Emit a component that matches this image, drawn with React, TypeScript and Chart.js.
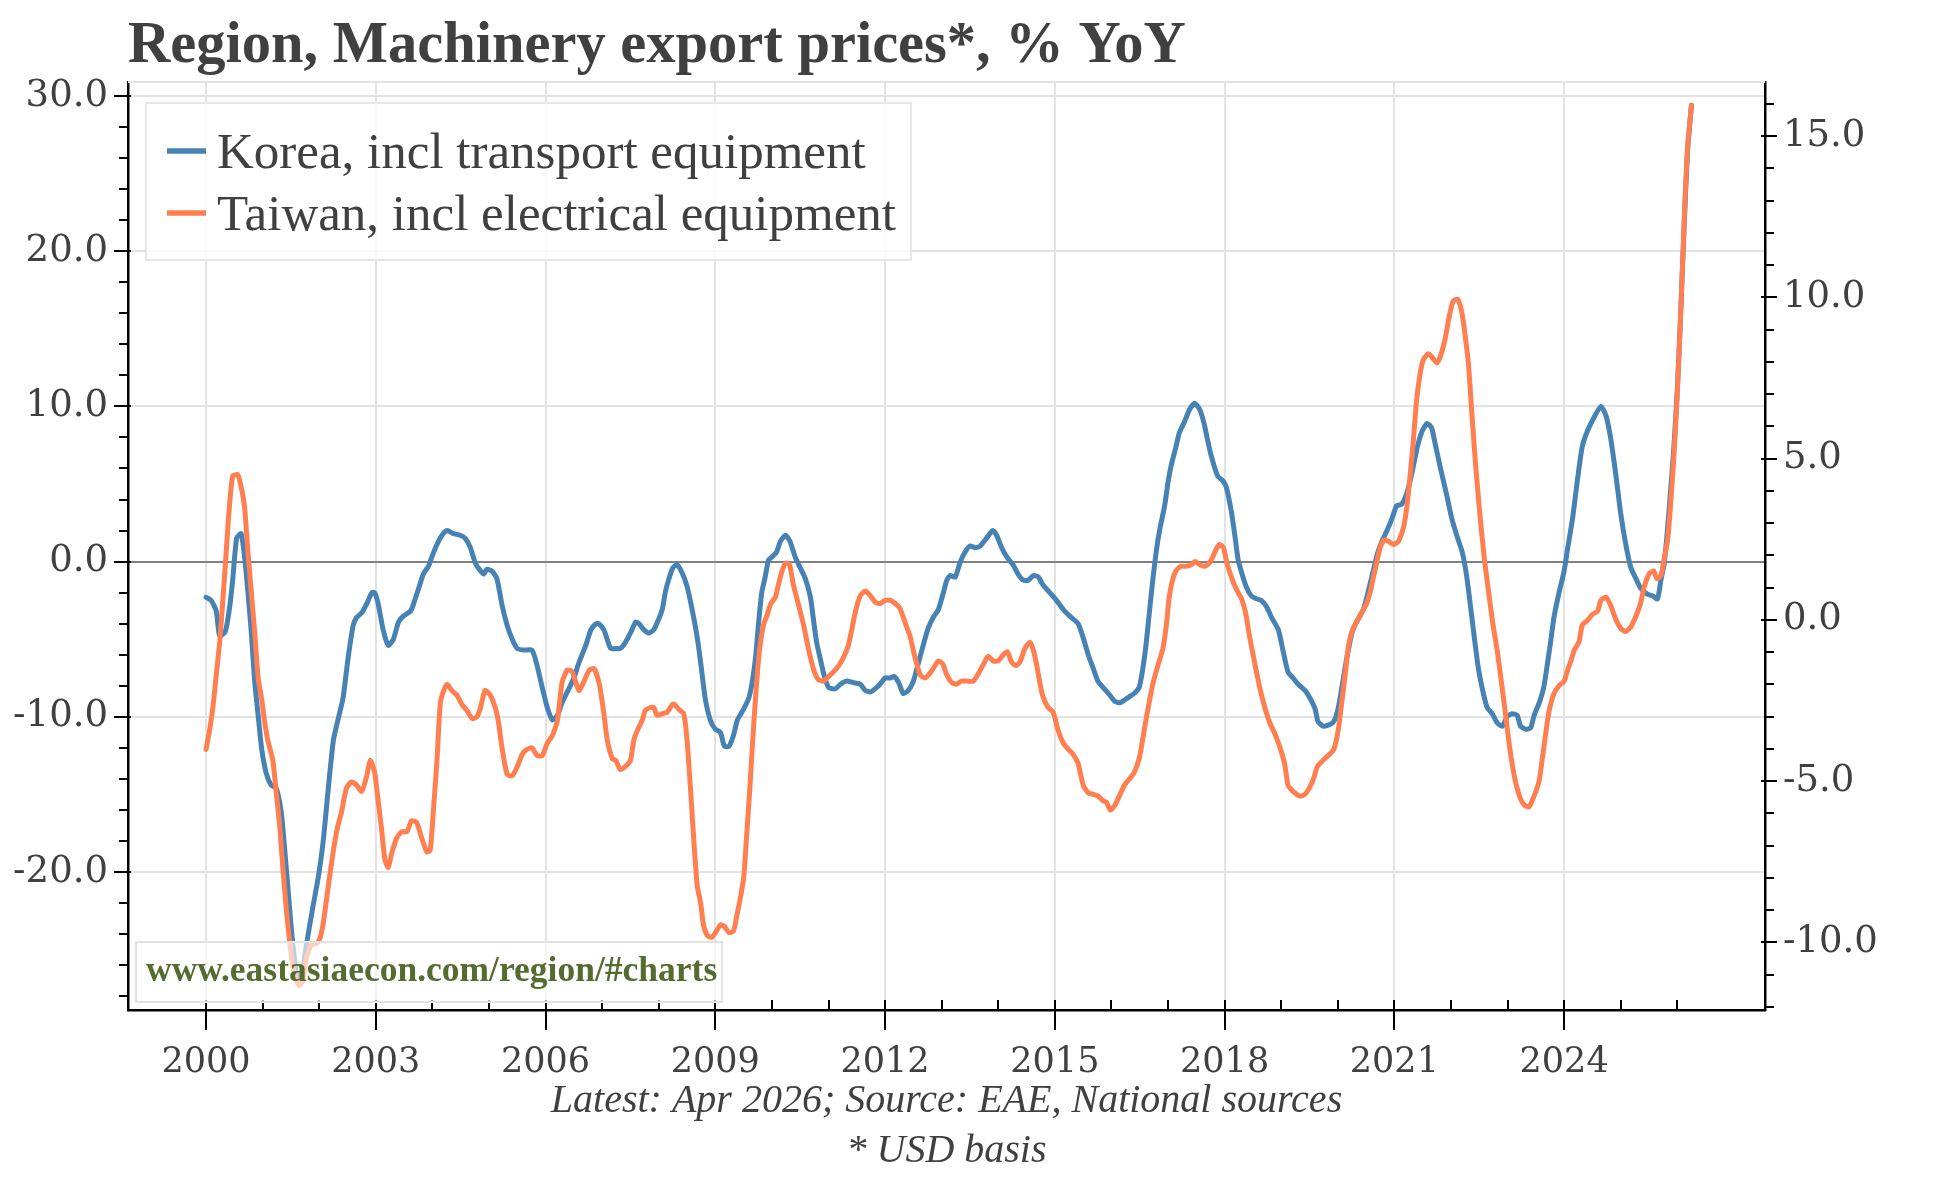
import React, { useEffect, useRef } from "react";
import { Chart, registerables } from "chart.js";

Chart.register(...registerables);

// ---------- texts ----------
const TITLE = "Region, Machinery export prices*, % YoY";
const SERIES_LABELS = ["Korea, incl transport equipment", "Taiwan, incl electrical equipment"];
const SERIES_COLORS = ["#4682b4", "#ff7f50"];
const FOOTNOTE_1 = "Latest: Apr 2026; Source: EAE, National sources";
const FOOTNOTE_2 = "* USD basis";
const WATERMARK = "www.eastasiaecon.com/region/#charts";

// ---------- axes ----------
const X_MAJOR_TICKS = [2000, 2003, 2006, 2009, 2012, 2015, 2018, 2021, 2024];
const LEFT_TICKS = [-20, -10, 0, 10, 20, 30];
const RIGHT_TICKS = [-10, -5, 0, 5, 10, 15];
const X_RANGE = [1998.62, 2027.55];
const LEFT_RANGE = [-28.89, 30.9];
const RIGHT_RANGE = [-12.1, 16.68];

// ---------- data: [decimal year, % YoY] ----------
const koreaPoints: [number, number][] = [
  [2000.0, -2.3], [2000.09, -2.5], [2000.18, -3.2], [2000.24, -4.8], [2000.34, -4.5], [2000.41, -3.1],
  [2000.47, -1.2], [2000.54, 1.5], [2000.62, 1.8], [2000.68, 0.3], [2000.74, -2.0], [2000.8, -4.6],
  [2000.86, -7.8], [2000.92, -9.9], [2000.98, -12.0], [2001.06, -13.6], [2001.15, -14.4], [2001.24, -14.6],
  [2001.33, -16.2], [2001.39, -18.6], [2001.45, -21.2], [2001.51, -23.8], [2001.6, -26.7], [2001.65, -27.2],
  [2001.71, -26.2], [2001.8, -24.1], [2001.89, -22.2], [2001.98, -20.4], [2002.07, -18.0], [2002.16, -14.6],
  [2002.25, -11.5], [2002.33, -10.2], [2002.42, -8.8], [2002.51, -6.2], [2002.6, -4.1], [2002.66, -3.6],
  [2002.75, -3.3], [2002.84, -2.7], [2002.93, -2.0], [2002.98, -2.0], [2003.04, -2.7], [2003.13, -4.4],
  [2003.22, -5.4], [2003.31, -5.0], [2003.4, -3.9], [2003.49, -3.5], [2003.61, -3.2], [2003.66, -2.8],
  [2003.75, -1.8], [2003.84, -0.8], [2003.93, -0.3], [2003.99, 0.3], [2004.08, 1.1], [2004.17, 1.7],
  [2004.26, 2.0], [2004.37, 1.8], [2004.49, 1.7], [2004.58, 1.5], [2004.67, 0.9], [2004.76, -0.1],
  [2004.85, -0.6], [2004.91, -0.8], [2004.96, -0.5], [2005.05, -0.6], [2005.14, -1.1], [2005.23, -2.8],
  [2005.32, -4.1], [2005.41, -5.0], [2005.5, -5.6], [2005.61, -5.7], [2005.76, -5.7], [2005.85, -6.7],
  [2005.94, -8.1], [2006.03, -9.4], [2006.12, -10.2], [2006.21, -9.9], [2006.29, -9.1], [2006.41, -8.2],
  [2006.5, -7.5], [2006.59, -6.5], [2006.71, -5.4], [2006.8, -4.4], [2006.89, -4.0], [2006.94, -4.0],
  [2007.03, -4.4], [2007.15, -5.6], [2007.24, -5.6], [2007.32, -5.6], [2007.41, -5.2], [2007.5, -4.6],
  [2007.59, -3.9], [2007.65, -4.0], [2007.74, -4.4], [2007.82, -4.6], [2007.91, -4.4], [2008.0, -3.7],
  [2008.06, -3.1], [2008.12, -1.9], [2008.18, -1.1], [2008.25, -0.4], [2008.32, -0.2], [2008.41, -0.7],
  [2008.5, -1.6], [2008.59, -3.1], [2008.68, -4.9], [2008.74, -6.5], [2008.82, -8.8], [2008.91, -10.2],
  [2009.0, -10.8], [2009.09, -11.0], [2009.16, -11.9], [2009.24, -11.9], [2009.32, -11.2], [2009.39, -10.2],
  [2009.5, -9.5], [2009.59, -8.8], [2009.65, -7.8], [2009.71, -6.2], [2009.76, -4.1], [2009.82, -2.0],
  [2009.88, -1.0], [2009.94, 0.1], [2010.0, 0.3], [2010.08, 0.6], [2010.15, 1.3], [2010.24, 1.7],
  [2010.32, 1.3], [2010.41, 0.3], [2010.5, -0.4], [2010.59, -1.1], [2010.68, -2.3], [2010.74, -3.9],
  [2010.79, -5.2], [2010.85, -6.2], [2010.92, -7.3], [2011.0, -8.1], [2011.12, -8.2], [2011.21, -7.9],
  [2011.32, -7.7], [2011.44, -7.8], [2011.56, -7.9], [2011.65, -8.3], [2011.74, -8.4], [2011.82, -8.2],
  [2011.91, -7.9], [2012.0, -7.5], [2012.09, -7.5], [2012.16, -7.4], [2012.24, -7.8], [2012.32, -8.5],
  [2012.41, -8.3], [2012.5, -7.7], [2012.59, -6.5], [2012.68, -5.3], [2012.76, -4.3], [2012.85, -3.6],
  [2012.94, -3.1], [2013.03, -2.0], [2013.09, -1.2], [2013.15, -0.9], [2013.24, -1.0], [2013.32, -0.1],
  [2013.41, 0.6], [2013.5, 1.0], [2013.59, 0.9], [2013.68, 1.0], [2013.79, 1.5], [2013.9, 2.0],
  [2013.97, 1.7], [2014.06, 0.9], [2014.15, 0.3], [2014.26, -0.2], [2014.35, -0.8], [2014.44, -1.2],
  [2014.53, -1.2], [2014.62, -0.9], [2014.71, -1.0], [2014.79, -1.5], [2014.91, -2.0], [2015.03, -2.5],
  [2015.15, -3.1], [2015.26, -3.5], [2015.41, -4.0], [2015.5, -4.9], [2015.59, -6.0], [2015.68, -6.9],
  [2015.76, -7.7], [2015.85, -8.1], [2015.97, -8.6], [2016.06, -9.0], [2016.15, -9.1], [2016.24, -8.9],
  [2016.32, -8.7], [2016.4, -8.5], [2016.49, -8.1], [2016.55, -7.0], [2016.61, -5.4], [2016.67, -3.3],
  [2016.73, -1.2], [2016.79, 0.6], [2016.85, 2.0], [2016.94, 3.6], [2017.0, 5.1], [2017.05, 6.1],
  [2017.14, 7.4], [2017.2, 8.3], [2017.29, 9.0], [2017.38, 9.8], [2017.47, 10.2], [2017.56, 9.8],
  [2017.63, 9.0], [2017.69, 8.0], [2017.75, 7.0], [2017.82, 6.1], [2017.88, 5.5], [2017.97, 5.2],
  [2018.03, 4.8], [2018.12, 3.2], [2018.18, 1.7], [2018.24, 0.1], [2018.3, -0.7], [2018.38, -1.6],
  [2018.47, -2.2], [2018.56, -2.4], [2018.65, -2.5], [2018.74, -2.9], [2018.83, -3.6], [2018.95, -4.4],
  [2019.03, -5.7], [2019.12, -7.1], [2019.21, -7.5], [2019.3, -7.9], [2019.42, -8.3], [2019.51, -8.8],
  [2019.6, -9.5], [2019.65, -10.3], [2019.74, -10.6], [2019.86, -10.5], [2019.93, -10.3], [2020.01, -9.4],
  [2020.1, -7.5], [2020.16, -6.2], [2020.25, -4.6], [2020.33, -3.9], [2020.45, -3.1], [2020.52, -2.2],
  [2020.6, -1.0], [2020.7, 0.5], [2020.78, 1.3], [2020.87, 2.0], [2020.96, 2.8], [2021.04, 3.6],
  [2021.13, 3.7], [2021.22, 4.4], [2021.31, 5.7], [2021.4, 7.3], [2021.49, 8.4], [2021.58, 8.9],
  [2021.66, 8.6], [2021.72, 7.6], [2021.81, 6.1], [2021.93, 4.2], [2022.02, 2.7], [2022.11, 1.6],
  [2022.2, 0.6], [2022.28, -1.0], [2022.37, -3.6], [2022.43, -5.4], [2022.49, -7.0], [2022.58, -8.6],
  [2022.64, -9.4], [2022.73, -9.8], [2022.82, -10.4], [2022.91, -10.6], [2022.99, -10.0], [2023.08, -9.8],
  [2023.17, -9.9], [2023.23, -10.6], [2023.32, -10.8], [2023.41, -10.7], [2023.47, -9.9], [2023.56, -9.1],
  [2023.64, -8.1], [2023.7, -6.7], [2023.76, -5.2], [2023.82, -3.6], [2023.91, -2.0], [2024.0, -0.6],
  [2024.06, 0.8], [2024.15, 2.8], [2024.24, 5.4], [2024.32, 7.4], [2024.41, 8.4], [2024.53, 9.3],
  [2024.65, 10.0], [2024.74, 9.4], [2024.82, 8.0], [2024.91, 5.7], [2025.0, 3.1], [2025.09, 1.1],
  [2025.18, -0.4], [2025.27, -1.1], [2025.35, -1.7], [2025.47, -2.1], [2025.56, -2.2], [2025.65, -2.4],
  [2025.71, -1.2], [2025.77, -0.1], [2025.83, 2.2], [2025.88, 4.5], [2025.94, 7.4], [2026.0, 11.1],
  [2026.06, 16.0], [2026.12, 21.5], [2026.18, 26.4], [2026.25, 29.4],
];

const taiwanPoints: [number, number][] = [
  [2000.0, -12.1], [2000.06, -10.9], [2000.12, -9.4], [2000.18, -7.3], [2000.24, -5.2], [2000.3, -2.3],
  [2000.35, 0.3], [2000.4, 3.0], [2000.47, 5.5], [2000.56, 5.6], [2000.62, 4.8], [2000.68, 3.5],
  [2000.74, 0.6], [2000.8, -2.0], [2000.86, -4.6], [2000.92, -7.5], [2000.98, -8.8], [2001.03, -10.2],
  [2001.09, -11.5], [2001.18, -12.8], [2001.24, -14.9], [2001.3, -17.0], [2001.36, -19.9], [2001.42, -22.5],
  [2001.48, -24.6], [2001.54, -26.2], [2001.6, -27.0], [2001.65, -27.3], [2001.71, -27.0], [2001.77, -25.6],
  [2001.86, -24.7], [2001.95, -24.6], [2002.01, -24.3], [2002.07, -23.3], [2002.16, -20.9], [2002.25, -18.6],
  [2002.33, -17.0], [2002.39, -16.2], [2002.48, -14.6], [2002.57, -14.2], [2002.66, -14.4], [2002.75, -14.8],
  [2002.84, -13.8], [2002.9, -12.8], [2002.98, -13.6], [2003.04, -15.4], [2003.1, -17.2], [2003.16, -19.2],
  [2003.22, -19.7], [2003.28, -18.8], [2003.37, -17.8], [2003.46, -17.4], [2003.55, -17.4], [2003.63, -16.7],
  [2003.72, -16.8], [2003.81, -17.8], [2003.9, -18.7], [2003.96, -18.6], [2004.02, -15.9], [2004.08, -12.8],
  [2004.14, -9.1], [2004.2, -8.3], [2004.26, -7.9], [2004.34, -8.3], [2004.43, -8.6], [2004.52, -9.2],
  [2004.61, -9.6], [2004.7, -10.1], [2004.79, -10.0], [2004.85, -9.4], [2004.93, -8.3], [2005.02, -8.6],
  [2005.11, -9.4], [2005.17, -10.4], [2005.23, -12.0], [2005.32, -13.7], [2005.41, -13.8], [2005.5, -13.2],
  [2005.59, -12.4], [2005.67, -12.1], [2005.76, -12.0], [2005.85, -12.5], [2005.94, -12.5], [2006.03, -11.7],
  [2006.12, -11.2], [2006.21, -10.2], [2006.29, -7.8], [2006.38, -7.0], [2006.47, -7.1], [2006.59, -8.3],
  [2006.68, -7.7], [2006.77, -7.0], [2006.86, -6.9], [2006.95, -7.9], [2007.03, -9.8], [2007.09, -11.5],
  [2007.18, -12.7], [2007.24, -12.8], [2007.32, -13.4], [2007.41, -13.2], [2007.5, -12.8], [2007.56, -11.5],
  [2007.62, -10.9], [2007.71, -10.2], [2007.76, -9.6], [2007.85, -9.4], [2007.91, -9.4], [2007.97, -9.9],
  [2008.06, -9.8], [2008.15, -9.7], [2008.24, -9.2], [2008.28, -9.2], [2008.35, -9.5], [2008.44, -9.8],
  [2008.5, -11.5], [2008.56, -14.6], [2008.62, -18.0], [2008.68, -20.9], [2008.74, -22.0], [2008.79, -23.4],
  [2008.86, -24.1], [2008.94, -24.2], [2009.02, -23.8], [2009.09, -23.4], [2009.16, -23.5], [2009.24, -23.9],
  [2009.32, -23.8], [2009.38, -22.8], [2009.44, -21.7], [2009.5, -20.4], [2009.55, -17.8], [2009.61, -14.6],
  [2009.66, -11.5], [2009.72, -8.3], [2009.78, -5.7], [2009.85, -4.1], [2009.91, -3.5], [2009.98, -2.7],
  [2010.06, -2.3], [2010.12, -1.4], [2010.18, -0.6], [2010.24, -0.1], [2010.31, -0.2], [2010.38, -1.5],
  [2010.47, -2.8], [2010.56, -4.1], [2010.65, -5.7], [2010.74, -7.0], [2010.82, -7.6], [2010.91, -7.7],
  [2011.0, -7.4], [2011.09, -7.1], [2011.18, -6.7], [2011.26, -6.2], [2011.35, -5.4], [2011.41, -4.4],
  [2011.47, -3.3], [2011.56, -2.2], [2011.65, -1.9], [2011.74, -2.2], [2011.82, -2.6], [2011.91, -2.7],
  [2012.0, -2.5], [2012.09, -2.5], [2012.18, -2.7], [2012.26, -3.0], [2012.35, -3.9], [2012.44, -4.8],
  [2012.53, -6.2], [2012.62, -7.3], [2012.71, -7.5], [2012.79, -7.2], [2012.85, -6.9], [2012.94, -6.4],
  [2013.02, -6.6], [2013.09, -7.3], [2013.18, -7.8], [2013.26, -7.9], [2013.35, -7.7], [2013.44, -7.7],
  [2013.56, -7.7], [2013.65, -7.2], [2013.74, -6.6], [2013.82, -6.1], [2013.91, -6.4], [2014.0, -6.4],
  [2014.09, -6.0], [2014.16, -5.8], [2014.24, -6.5], [2014.32, -6.7], [2014.39, -6.4], [2014.47, -5.6],
  [2014.56, -5.2], [2014.62, -5.7], [2014.68, -6.7], [2014.74, -7.9], [2014.79, -8.7], [2014.88, -9.4],
  [2014.97, -9.7], [2015.06, -10.9], [2015.15, -11.7], [2015.24, -12.1], [2015.32, -12.4], [2015.41, -13.0],
  [2015.5, -14.4], [2015.59, -14.9], [2015.68, -15.0], [2015.76, -15.1], [2015.85, -15.4], [2015.91, -15.5],
  [2015.98, -16.0], [2016.06, -15.7], [2016.14, -15.1], [2016.23, -14.4], [2016.32, -14.0], [2016.4, -13.6],
  [2016.49, -12.7], [2016.55, -11.5], [2016.61, -10.2], [2016.67, -9.0], [2016.73, -7.9], [2016.82, -6.7],
  [2016.91, -5.6], [2016.97, -4.1], [2017.02, -2.3], [2017.08, -1.2], [2017.14, -0.6], [2017.23, -0.3],
  [2017.32, -0.3], [2017.41, -0.2], [2017.48, 0.0], [2017.56, -0.2], [2017.65, -0.3], [2017.73, -0.1],
  [2017.79, 0.3], [2017.85, 0.8], [2017.91, 1.1], [2017.98, 0.9], [2018.04, -0.1], [2018.12, -1.0],
  [2018.21, -1.8], [2018.3, -2.4], [2018.37, -3.3], [2018.44, -4.8], [2018.53, -6.5], [2018.62, -8.1],
  [2018.71, -9.4], [2018.8, -10.4], [2018.89, -11.1], [2018.98, -12.0], [2019.06, -13.0], [2019.12, -14.4],
  [2019.21, -14.8], [2019.33, -15.1], [2019.42, -15.0], [2019.51, -14.5], [2019.57, -14.0], [2019.64, -13.2],
  [2019.74, -12.8], [2019.83, -12.5], [2019.93, -12.1], [2020.01, -10.8], [2020.07, -9.1], [2020.13, -7.3],
  [2020.19, -5.4], [2020.26, -4.4], [2020.33, -3.9], [2020.42, -3.3], [2020.51, -2.7], [2020.57, -2.0],
  [2020.63, -1.0], [2020.69, 0.0], [2020.75, 0.9], [2020.82, 1.4], [2020.9, 1.3], [2020.98, 1.1],
  [2021.07, 1.3], [2021.16, 2.2], [2021.22, 3.5], [2021.28, 5.6], [2021.34, 8.0], [2021.39, 10.3],
  [2021.45, 12.0], [2021.51, 13.0], [2021.6, 13.4], [2021.66, 13.2], [2021.75, 12.8], [2021.82, 13.3],
  [2021.9, 14.4], [2021.97, 15.8], [2022.04, 16.8], [2022.12, 16.9], [2022.19, 16.1], [2022.25, 14.6],
  [2022.31, 12.7], [2022.37, 9.5], [2022.43, 6.5], [2022.5, 3.5], [2022.58, 0.5], [2022.66, -1.8],
  [2022.74, -4.0], [2022.82, -5.8], [2022.9, -8.0], [2022.97, -10.0], [2023.05, -12.3], [2023.13, -14.0],
  [2023.22, -15.2], [2023.3, -15.7], [2023.38, -15.8], [2023.47, -15.1], [2023.56, -14.1], [2023.61, -12.8],
  [2023.67, -11.2], [2023.73, -9.7], [2023.82, -8.5], [2023.91, -8.0], [2024.0, -7.7], [2024.06, -7.0],
  [2024.12, -6.4], [2024.18, -5.7], [2024.26, -5.2], [2024.32, -4.1], [2024.41, -3.8], [2024.5, -3.4],
  [2024.59, -3.2], [2024.65, -2.5], [2024.74, -2.3], [2024.82, -2.8], [2024.91, -3.7], [2025.0, -4.3],
  [2025.09, -4.5], [2025.18, -4.2], [2025.27, -3.5], [2025.35, -2.7], [2025.41, -1.7], [2025.5, -0.8],
  [2025.58, -0.6], [2025.64, -1.1], [2025.71, -0.9], [2025.77, 0.2], [2025.83, 1.4], [2025.88, 3.6],
  [2025.94, 6.8], [2026.0, 10.8], [2026.06, 16.0], [2026.12, 21.8], [2026.18, 26.6], [2026.25, 29.4],
];

// ---------- layout ----------
const W = 1944;
const H = 1178;
const PLOT_LEFT = 128;
const PLOT_RIGHT = 1765;
const PLOT_TOP = 82;
const PLOT_BOTTOM = 1010;
const TEXT = "#404040";
const GRID = "#e3e3e3";

function line(ctx: CanvasRenderingContext2D, x1: number, y1: number, x2: number, y2: number) {
  ctx.beginPath();
  ctx.moveTo(x1, y1);
  ctx.lineTo(x2, y2);
  ctx.stroke();
}

const overlayPlugin = {
  id: "overlay",
  afterDraw(chart: any) {
    const { ctx, chartArea: ca, scales } = chart;
    const xs = scales.x;
    const yl = scales.y;
    const yr = scales.y2;
    ctx.save();

    // top frame line
    ctx.strokeStyle = GRID;
    ctx.lineWidth = 2;
    line(ctx, ca.left, ca.top, ca.right, ca.top);

    // tick marks
    ctx.strokeStyle = "#000";
    ctx.lineWidth = 2;
    for (let v = Math.ceil(LEFT_RANGE[0] / 2) * 2; v <= LEFT_RANGE[1]; v += 2) {
      const y = Math.round(yl.getPixelForValue(v));
      const major = v % 10 === 0;
      line(ctx, ca.left - (major ? 14 : 9), y, ca.left + (major ? 3 : 0), y);
    }
    for (let v = Math.ceil(RIGHT_RANGE[0]); v <= RIGHT_RANGE[1]; v += 1) {
      const y = Math.round(yr.getPixelForValue(v));
      const major = v % 5 === 0;
      line(ctx, ca.right - (major ? 4 : 0), y, ca.right + (major ? 12 : 9), y);
    }
    for (let yr0 = 2000; yr0 <= 2026; yr0++) {
      const x = Math.round(xs.getPixelForValue(yr0));
      const major = X_MAJOR_TICKS.includes(yr0);
      line(ctx, x, ca.bottom - 10, x, ca.bottom + (major ? 20 : 0));
    }

    // legend
    const lx = 146, ly = 103, lw = 765, lh = 157;
    ctx.fillStyle = "rgba(255,255,255,0.82)";
    ctx.strokeStyle = "#e6e6e6";
    ctx.lineWidth = 2;
    ctx.beginPath();
    ctx.rect(lx, ly, lw, lh);
    ctx.fill();
    ctx.stroke();
    ctx.font = "51px 'Liberation Serif'";
    ctx.textBaseline = "alphabetic";
    ctx.textAlign = "left";
    SERIES_LABELS.forEach((label, i) => {
      const cy = 151 + i * 62;
      ctx.strokeStyle = SERIES_COLORS[i];
      ctx.lineWidth = 5.5;
      line(ctx, 167, cy, 206, cy);
      ctx.fillStyle = TEXT;
      ctx.fillText(label, 217, cy + 17);
    });

    // watermark
    ctx.fillStyle = "rgba(255,255,255,0.62)";
    ctx.strokeStyle = "#e2e2e2";
    ctx.lineWidth = 2;
    ctx.beginPath();
    ctx.rect(136, 942, 586, 60);
    ctx.fill();
    ctx.stroke();
    ctx.fillStyle = "#556b2f";
    ctx.font = "bold 35.5px 'Liberation Serif'";
    ctx.fillText(WATERMARK, 146, 981);

    // title
    ctx.fillStyle = TEXT;
    ctx.font = "bold 58.5px 'Liberation Serif'";
    ctx.fillText(TITLE, 128, 62);

    // footnotes
    const cx = (ca.left + ca.right) / 2;
    ctx.textAlign = "center";
    ctx.font = "italic 40px 'Liberation Serif'";
    ctx.fillText(FOOTNOTE_1, cx, 1112);
    ctx.fillText(FOOTNOTE_2, cx, 1162);

    ctx.restore();
  },
};

export default function App() {
  const ref = useRef<HTMLCanvasElement | null>(null);

  useEffect(() => {
    const canvas = ref.current;
    if (!canvas) return;
    const chart = new Chart(canvas, {
      type: "line",
      data: {
        datasets: [
          {
            label: SERIES_LABELS[0],
            data: koreaPoints.map(([x, y]) => ({ x, y })),
            borderColor: SERIES_COLORS[0],
            backgroundColor: SERIES_COLORS[0],
            borderWidth: 5,
            pointRadius: 0,
            tension: 0.2,
            borderJoinStyle: "round",
            borderCapStyle: "round",
            yAxisID: "y",
            order: 1,
          },
          {
            label: SERIES_LABELS[1],
            data: taiwanPoints.map(([x, y]) => ({ x, y })),
            borderColor: SERIES_COLORS[1],
            backgroundColor: SERIES_COLORS[1],
            borderWidth: 5,
            pointRadius: 0,
            tension: 0.2,
            borderJoinStyle: "round",
            borderCapStyle: "round",
            yAxisID: "y",
            order: 0,
          },
        ],
      },
      options: {
        responsive: false,
        animation: false,
        devicePixelRatio: 1,
        layout: { padding: { top: PLOT_TOP, left: 0, right: 0, bottom: 0 } },
        plugins: {
          legend: { display: false },
          title: { display: false },
          tooltip: { enabled: false },
        },
        scales: {
          x: {
            type: "linear",
            min: X_RANGE[0],
            max: X_RANGE[1],
            afterBuildTicks: (axis: any) => {
              axis.ticks = X_MAJOR_TICKS.map((v) => ({ value: v }));
            },
            afterFit: (axis: any) => {
              axis.height = H - PLOT_BOTTOM;
            },
            ticks: {
              autoSkip: false,
              maxRotation: 0,
              minRotation: 0,
              padding: 32,
              color: TEXT,
              font: { family: "'DejaVu Serif'", size: 35 },
              callback: (v: any) => String(v),
            },
            grid: { color: GRID, lineWidth: 2, drawTicks: false },
            border: { display: true, color: "#000", width: 2.5 },
          },
          y: {
            type: "linear",
            position: "left",
            min: LEFT_RANGE[0],
            max: LEFT_RANGE[1],
            afterBuildTicks: (axis: any) => {
              axis.ticks = LEFT_TICKS.map((v) => ({ value: v }));
            },
            afterFit: (axis: any) => {
              axis.width = PLOT_LEFT;
            },
            ticks: {
              padding: 20,
              color: TEXT,
              font: { family: "'DejaVu Serif'", size: 37 },
              callback: (v: any) => Number(v).toFixed(1),
            },
            grid: {
              color: (c: any) => (c.tick && c.tick.value === 0 ? "#808080" : GRID),
              lineWidth: 2,
              drawTicks: false,
            },
            border: { display: true, color: "#000", width: 2.5 },
          },
          y2: {
            type: "linear",
            position: "right",
            min: RIGHT_RANGE[0],
            max: RIGHT_RANGE[1],
            afterBuildTicks: (axis: any) => {
              axis.ticks = RIGHT_TICKS.map((v) => ({ value: v }));
            },
            afterFit: (axis: any) => {
              axis.width = W - PLOT_RIGHT;
            },
            ticks: {
              padding: 18,
              color: TEXT,
              font: { family: "'DejaVu Serif'", size: 37 },
              callback: (v: any) => Number(v).toFixed(1),
            },
            grid: { drawOnChartArea: false, drawTicks: false },
            border: { display: true, color: "#000", width: 2.5 },
          },
        },
      } as any,
      plugins: [overlayPlugin],
    });
    return () => chart.destroy();
  }, []);

  return (
    <div style={{ position: "fixed", left: 0, top: 0, width: W, height: H, background: "#fff" }}>
      <canvas ref={ref} width={W} height={H} style={{ width: W, height: H, display: "block" }} />
    </div>
  );
}
